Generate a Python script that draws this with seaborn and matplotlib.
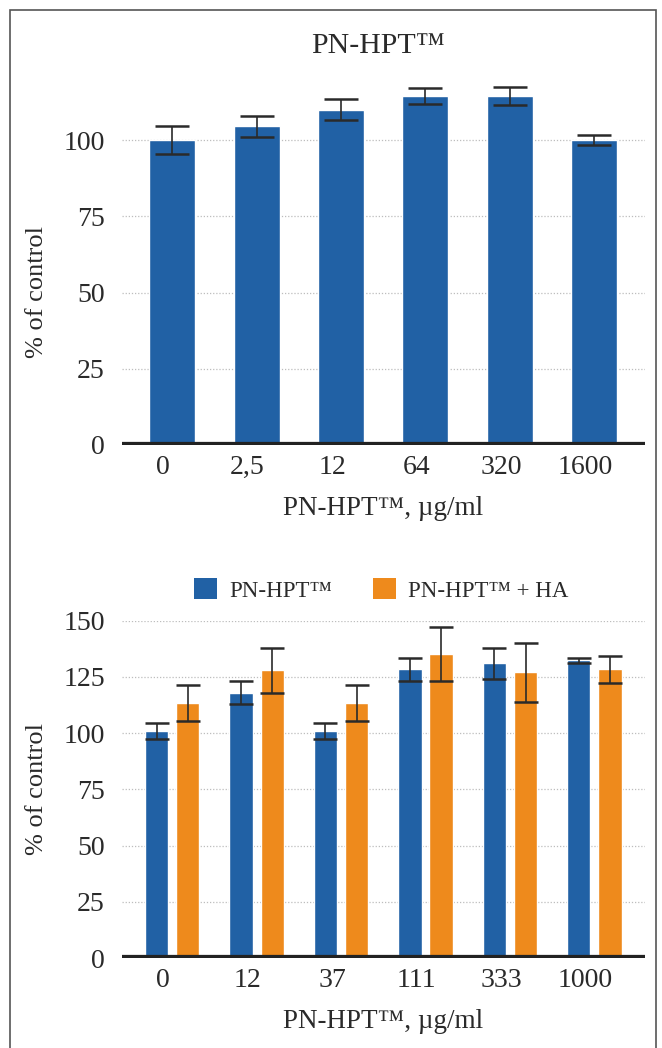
import matplotlib
matplotlib.use("Agg")
import matplotlib.pyplot as plt
import matplotlib.transforms as mtransforms
from matplotlib.patches import Rectangle, Patch
import seaborn as sns
import pandas as pd
import numpy as np

# ---------------- data ----------------
top_labels = ['0', '2,5', '12', '64', '320', '1600']
top_vals = [100, 104.5, 110, 114.4, 114.4, 100]
top_err = [4.7, 3.5, 3.5, 2.5, 3.0, 1.7]

bottom_labels = ['0', '12', '37', '111', '333', '1000']
hpt_vals = [101, 118, 101, 128.4, 131, 132.4]
hpt_err = [3.5, 5, 3.5, 5, 7, 1.2]
ha_vals = [113.5, 128, 113.5, 135, 127, 128.4]
ha_err = [8, 10, 8, 12, 13, 6]

series_names = ['PN-HPT™', 'PN-HPT™ + HA']
top_title = 'PN-HPT™'
x_title = 'PN-HPT™, µg/ml'
y_title = '% of control'

BLUE = '#2161a5'
ORANGE = '#ee8a1c'
DARK = '#222222'

sns.set_theme(style='white')
plt.rcParams['font.family'] = ['Liberation Serif', 'DejaVu Serif']
plt.rcParams['text.color'] = '#222222'

W, H = 662, 1048
fig = plt.figure(figsize=(W / 100, H / 100), dpi=100)

def fx(px):
    return px / W

def fy(py):
    return 1 - py / H

ax1 = fig.add_axes([fx(121.5), fy(445), fx(645) - fx(121.5), fy(79) - fy(445)])
ax2 = fig.add_axes([fx(121.5), fy(958), fx(645) - fx(121.5), fy(620.7) - fy(958)])

# ---------- top chart ----------
df_top = pd.DataFrame({'conc': top_labels, 'val': top_vals})
sns.barplot(data=df_top, x='conc', y='val', order=top_labels, color=BLUE,
            saturation=1, width=0.545, errorbar=None, ax=ax1, zorder=2)
bars = ax1.containers[0]
xs = [p.get_x() + p.get_width() / 2 for p in bars]
hs = [p.get_height() for p in bars]
ax1.errorbar(xs, hs, yerr=top_err, fmt='none', ecolor='#2a2a2a',
             elinewidth=1.2, capsize=12.5, capthick=1.8, zorder=3)
ax1.set_ylim(0, 120)
ax1.set_xlim(-0.6, 5.6)

# ---------- bottom chart ----------
df_bot = pd.DataFrame({
    'conc': bottom_labels * 2,
    'val': hpt_vals + ha_vals,
    'series': [series_names[0]] * len(bottom_labels) + [series_names[1]] * len(bottom_labels),
})
sns.barplot(data=df_bot, x='conc', y='val', hue='series', order=bottom_labels,
            hue_order=series_names, palette=[BLUE, ORANGE], saturation=1,
            width=0.74, gap=0.25, errorbar=None, ax=ax2, zorder=2, legend=False)
for cont, errs in zip(ax2.containers, [hpt_err, ha_err]):
    xs = [p.get_x() + p.get_width() / 2 for p in cont]
    hs = [p.get_height() for p in cont]
    ax2.errorbar(xs, hs, yerr=errs, fmt='none', ecolor='#2a2a2a',
                 elinewidth=1.2, capsize=8.5, capthick=1.8, zorder=3)
ax2.set_ylim(0, 150)
ax2.set_xlim(-0.6, 5.6)

# ---------- common styling ----------
offset = mtransforms.ScaledTranslation(-0.09, 0, fig.dpi_scale_trans)
for ax, ticks in [(ax1, [0, 25, 50, 75, 100]), (ax2, [0, 25, 50, 75, 100, 125, 150])]:
    ax.set_yticks(ticks)
    for t in ticks[1:]:
        ax.axhline(t, color='#bdbdbd', lw=0.9, ls=(0, (1, 1.5)), zorder=1)
    ax.axhline(0, color=DARK, lw=4.5, zorder=4, solid_capstyle='butt')
    for s in ax.spines.values():
        s.set_visible(False)
    ax.tick_params(axis='both', length=0, labelsize=20, colors='#2a2a2a')
    ax.tick_params(axis='y', pad=12)
    ax.tick_params(axis='x', pad=7)
    for lab in ax.get_xticklabels():
        lab.set_transform(lab.get_transform() + offset)
    ax.set_xlabel(x_title, fontsize=19.5, color='#2a2a2a', labelpad=12)
    ax.set_ylabel(y_title, fontsize=19, color='#2a2a2a')
    ax.set_facecolor('none')

ax1.yaxis.set_label_coords(-0.14, 50 / 120)
ax2.yaxis.set_label_coords(-0.14, 0.5)

# title
fig.text(fx(378), fy(46), top_title, ha='center', va='center', fontsize=21.5, color='#2a2a2a')

# legend
handles = [Patch(facecolor=BLUE, edgecolor='none'), Patch(facecolor=ORANGE, edgecolor='none')]
fig.legend(handles, series_names, loc='center', bbox_to_anchor=(fx(381.5), fy(590)),
           ncol=2, frameon=False, fontsize=16.5, handlelength=1.0, handleheight=1.0,
           handletextpad=0.52, columnspacing=1.8, labelcolor='#2a2a2a')

# outer frame
fig.patches.append(Rectangle((fx(10), -0.02), fx(656) - fx(10), fy(10) + 0.02,
                             transform=fig.transFigure, fill=False,
                             edgecolor='#555555', lw=1.2, zorder=0))

fig.savefig('out.png', dpi=100)
